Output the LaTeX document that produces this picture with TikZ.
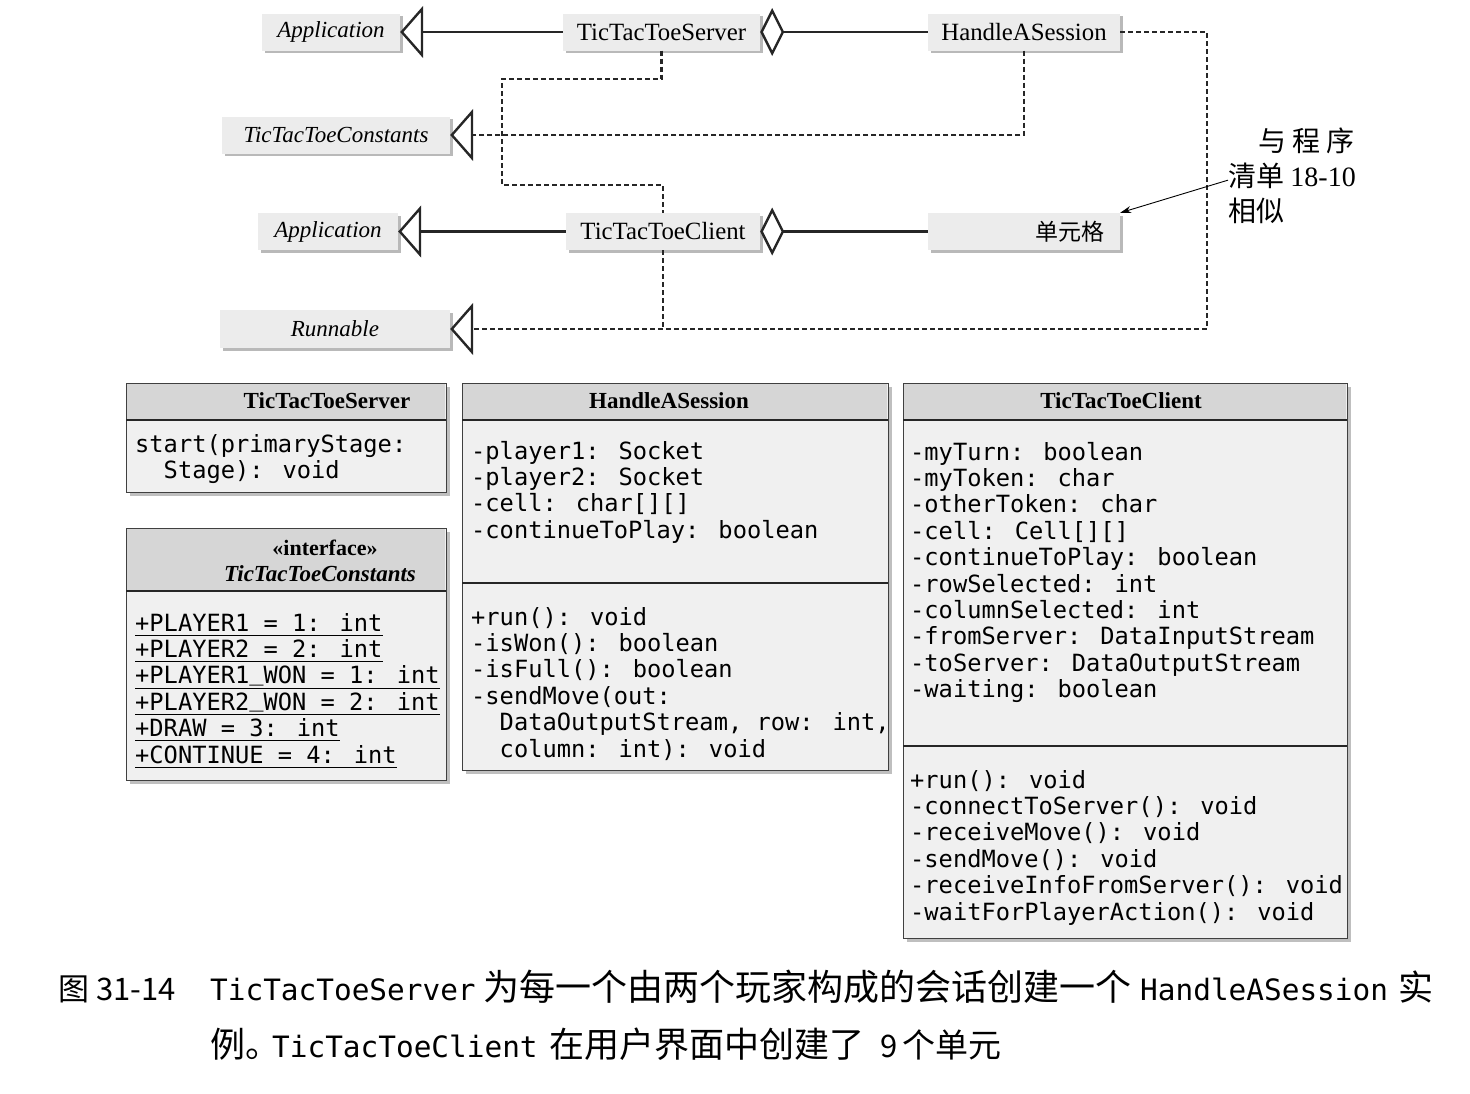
\documentclass[tikz,border=0pt]{standalone}
\usepackage{fontspec}
\setmainfont{Liberation Serif}
\newfontfamily\mono{DejaVu Sans Mono}
\newfontfamily\cjk{Noto Sans CJK SC}
\usetikzlibrary{arrows.meta,shadows}
\newcommand{\ulfix}[1]{\underline{\raisebox{0pt}[\height][2.5pt]{#1}}}
\newcommand{\usc}{\raisebox{3.5pt}{\_}}
\begin{document}
\begin{tikzpicture}[x=1pt,y=-1pt,
  topbox/.style={fill=gray!15, inner sep=0pt, minimum height=37pt,
    drop shadow={shadow xshift=2.5pt,shadow yshift=-2.5pt,fill=gray!55,opacity=1}},
  upr/.style={font=\fontsize{24.8}{28}\selectfont},
  itl/.style={font=\fontsize{23}{28}\selectfont\itshape},
  ln/.style={line width=2.4pt, draw=black!85},
  gen/.style={-{Triangle[open,length=23pt,width=52pt]}},
  agg/.style={{Diamond[open,length=24pt,width=48pt]}-},
  dsh/.style={line width=2.4pt, draw=black!85, dash pattern=on 5pt off 3pt},
  cls/.style={draw=gray!50!black, line width=1.2pt, fill=gray!12, inner sep=0pt,
    drop shadow={shadow xshift=3pt,shadow yshift=-3pt,fill=gray!50,opacity=1}},
  hdrfill/.style={fill=gray!32},
  sepline/.style={draw=gray!30!black, line width=1.4pt},
  hdrtxt/.style={font=\fontsize{23}{28}\selectfont\bfseries, inner sep=0pt, anchor=base},
  mtext/.style={font=\mono\fontsize{23.7}{26.4}\selectfont, align=left, inner sep=0pt, anchor=north west},
  capcjk/.style={font=\cjk\fontsize{35}{40}\selectfont, inner sep=0pt, anchor=base west},
  capmono/.style={font=\mono\fontsize{29.4}{35}\selectfont, inner sep=0pt, anchor=base west},
]
\useasboundingbox (0,0) rectangle (1470,1093);

% ---------- top diagram ----------
\node[topbox, minimum width=138pt, itl] (app1) at (331,32) {Application};
\node[topbox, minimum width=197pt, upr] (srv) at (661.5,32) {TicTacToeServer};
\node[topbox, minimum width=192pt, upr] (has) at (1024,32) {HandleASession};
\node[topbox, minimum width=228pt, itl] (con) at (336,135) {TicTacToeConstants};
\node[topbox, minimum width=140pt, itl] (app2) at (328,231.5) {Application};
\node[topbox, minimum width=194pt, upr] (cli) at (663,231.5) {TicTacToeClient};
\node[topbox, minimum width=192pt, text width=160pt, align=right,
      font=\cjk\fontsize{23}{28}\selectfont] (cell) at (1024,231.5) {单元格};
\node[topbox, minimum width=230pt, minimum height=38pt, itl] (run) at (335,329) {Runnable};

\draw[ln, gen] (srv.west) -- (app1.east);
\draw[ln, agg] (srv.east) -- (has.west);
\draw[ln, gen] (cli.west) -- (app2.east);
\draw[ln, agg] (cli.east) -- (cell.west);

\draw[dsh] (srv.south) -- ++(0,28) -| (502,185) -| (cli.north);
\draw[dsh, gen] (has.south) |- (con.east);
\draw[dsh, gen] (has.east) -| (1207,329) -- (run.east);
\draw[dsh] (cli.south) -- (cli.south |- run.east);

\node[font=\cjk\fontsize{28}{35}\selectfont, align=left, inner sep=0pt, anchor=north west]
  (note) at (1228,128) {\hspace*{30pt}与 程 序\\清单 {\rmfamily 18-10}\\相似};
\draw[-{Stealth[length=11pt,width=7pt]}, line width=0.9pt] ([yshift=-4pt]note.west) -- (cell.north east);

% ---------- class TicTacToeServer ----------
\node[cls, minimum width=320pt, minimum height=109pt, anchor=north west] (sbox) at (126,383) {};
\fill[hdrfill] (126.6,383.6) rectangle (445.4,420);
\draw[sepline] (126,420) -- (446,420);
\node[hdrtxt] (sname) at (327,408) {TicTacToeServer};
\node[mtext] (sops) at (135,433.5) {\strut start(primaryStage:\\\phantom{xx}Stage): void};

% ---------- interface TicTacToeConstants ----------
\node[cls, minimum width=320pt, minimum height=252pt, anchor=north west] (cbox) at (126,528) {};
\fill[hdrfill] (126.6,528.6) rectangle (445.4,591);
\draw[sepline] (126,591) -- (446,591);
\node[hdrtxt, font=\fontsize{22}{26}\selectfont\bfseries] (cster) at (325,555) {«interface»};
\node[hdrtxt, font=\fontsize{23}{26}\selectfont\bfseries\itshape] (cname) at (320,581) {TicTacToeConstants};
\node[mtext] (catt) at (135,612.5) {\strut\ulfix{+PLAYER1 = 1: int}\\
  \ulfix{+PLAYER2 = 2: int}\\
  \ulfix{+PLAYER1\usc WON = 1: int}\\
  \ulfix{+PLAYER2\usc WON = 2: int}\\
  \ulfix{+DRAW = 3: int}\\
  \ulfix{+CONTINUE = 4: int}};

% ---------- class HandleASession ----------
\node[cls, minimum width=426pt, minimum height=387pt, anchor=north west] (hbox) at (462,383) {};
\fill[hdrfill] (462.6,383.6) rectangle (887.4,420);
\draw[sepline] (462,420) -- (888,420);
\draw[sepline] (462,583) -- (888,583);
\node[hdrtxt] (hname) at (669,408) {HandleASession};
\node[mtext] (hatt) at (471,440.5) {\strut -player1: Socket\\
  -player2: Socket\\
  -cell: char[][]\\
  -continueToPlay: boolean};
\node[mtext] (hops) at (471,606.5) {\strut +run(): void\\
  -isWon(): boolean\\
  -isFull(): boolean\\
  -sendMove(out:\\
  \phantom{xx}DataOutputStream, row: int,\\
  \phantom{xx}column: int): void};

% ---------- class TicTacToeClient ----------
\node[cls, minimum width=444pt, minimum height=555pt, anchor=north west] (tbox) at (903,383) {};
\fill[hdrfill] (903.6,383.6) rectangle (1346.4,420);
\draw[sepline] (903,420) -- (1347,420);
\draw[sepline] (903,746) -- (1347,746);
\node[hdrtxt] (tname) at (1121,408) {TicTacToeClient};
\node[mtext] (tatt) at (910,441.5) {\strut -myTurn: boolean\\
  -myToken: char\\
  -otherToken: char\\
  -cell: Cell[][]\\
  -continueToPlay: boolean\\
  -rowSelected: int\\
  -columnSelected: int\\
  -fromServer: DataInputStream\\
  -toServer: DataOutputStream\\
  -waiting: boolean};
\node[mtext] (tops) at (910,769.5) {\strut +run(): void\\
  -connectToServer(): void\\
  -receiveMove(): void\\
  -sendMove(): void\\
  -receiveInfoFromServer(): void\\
  -waitForPlayerAction(): void};

% ---------- caption ----------
\node[capcjk, font=\cjk\fontsize{31}{36}\selectfont] (cap0) at (58,1000) {图 31-14};
\node[capmono] (cap1) at (210,1000) {TicTacToeServer};
\node[capcjk, font=\cjk\fontsize{36}{40}\selectfont] (cap2) at (483,1000) {为每一个由两个玩家构成的会话创建一个};
\node[capmono] (cap3) at (1140,1000) {HandleASession};
\node[capcjk] (cap4) at (1398,1000) {实};
\node[capcjk] (cap5) at (210,1057) {例。};
\node[capmono] (cap6) at (272,1057) {TicTacToeClient};
\node[capcjk] (cap7) at (549,1057) {在用户界面中创建了};
\node[capcjk, font=\cjk\fontsize{31}{36}\selectfont] (cap8) at (880,1057) {9};
\node[capcjk, font=\cjk\fontsize{33}{38}\selectfont] (cap9) at (902,1057) {个单元};
\end{tikzpicture}
\end{document}
